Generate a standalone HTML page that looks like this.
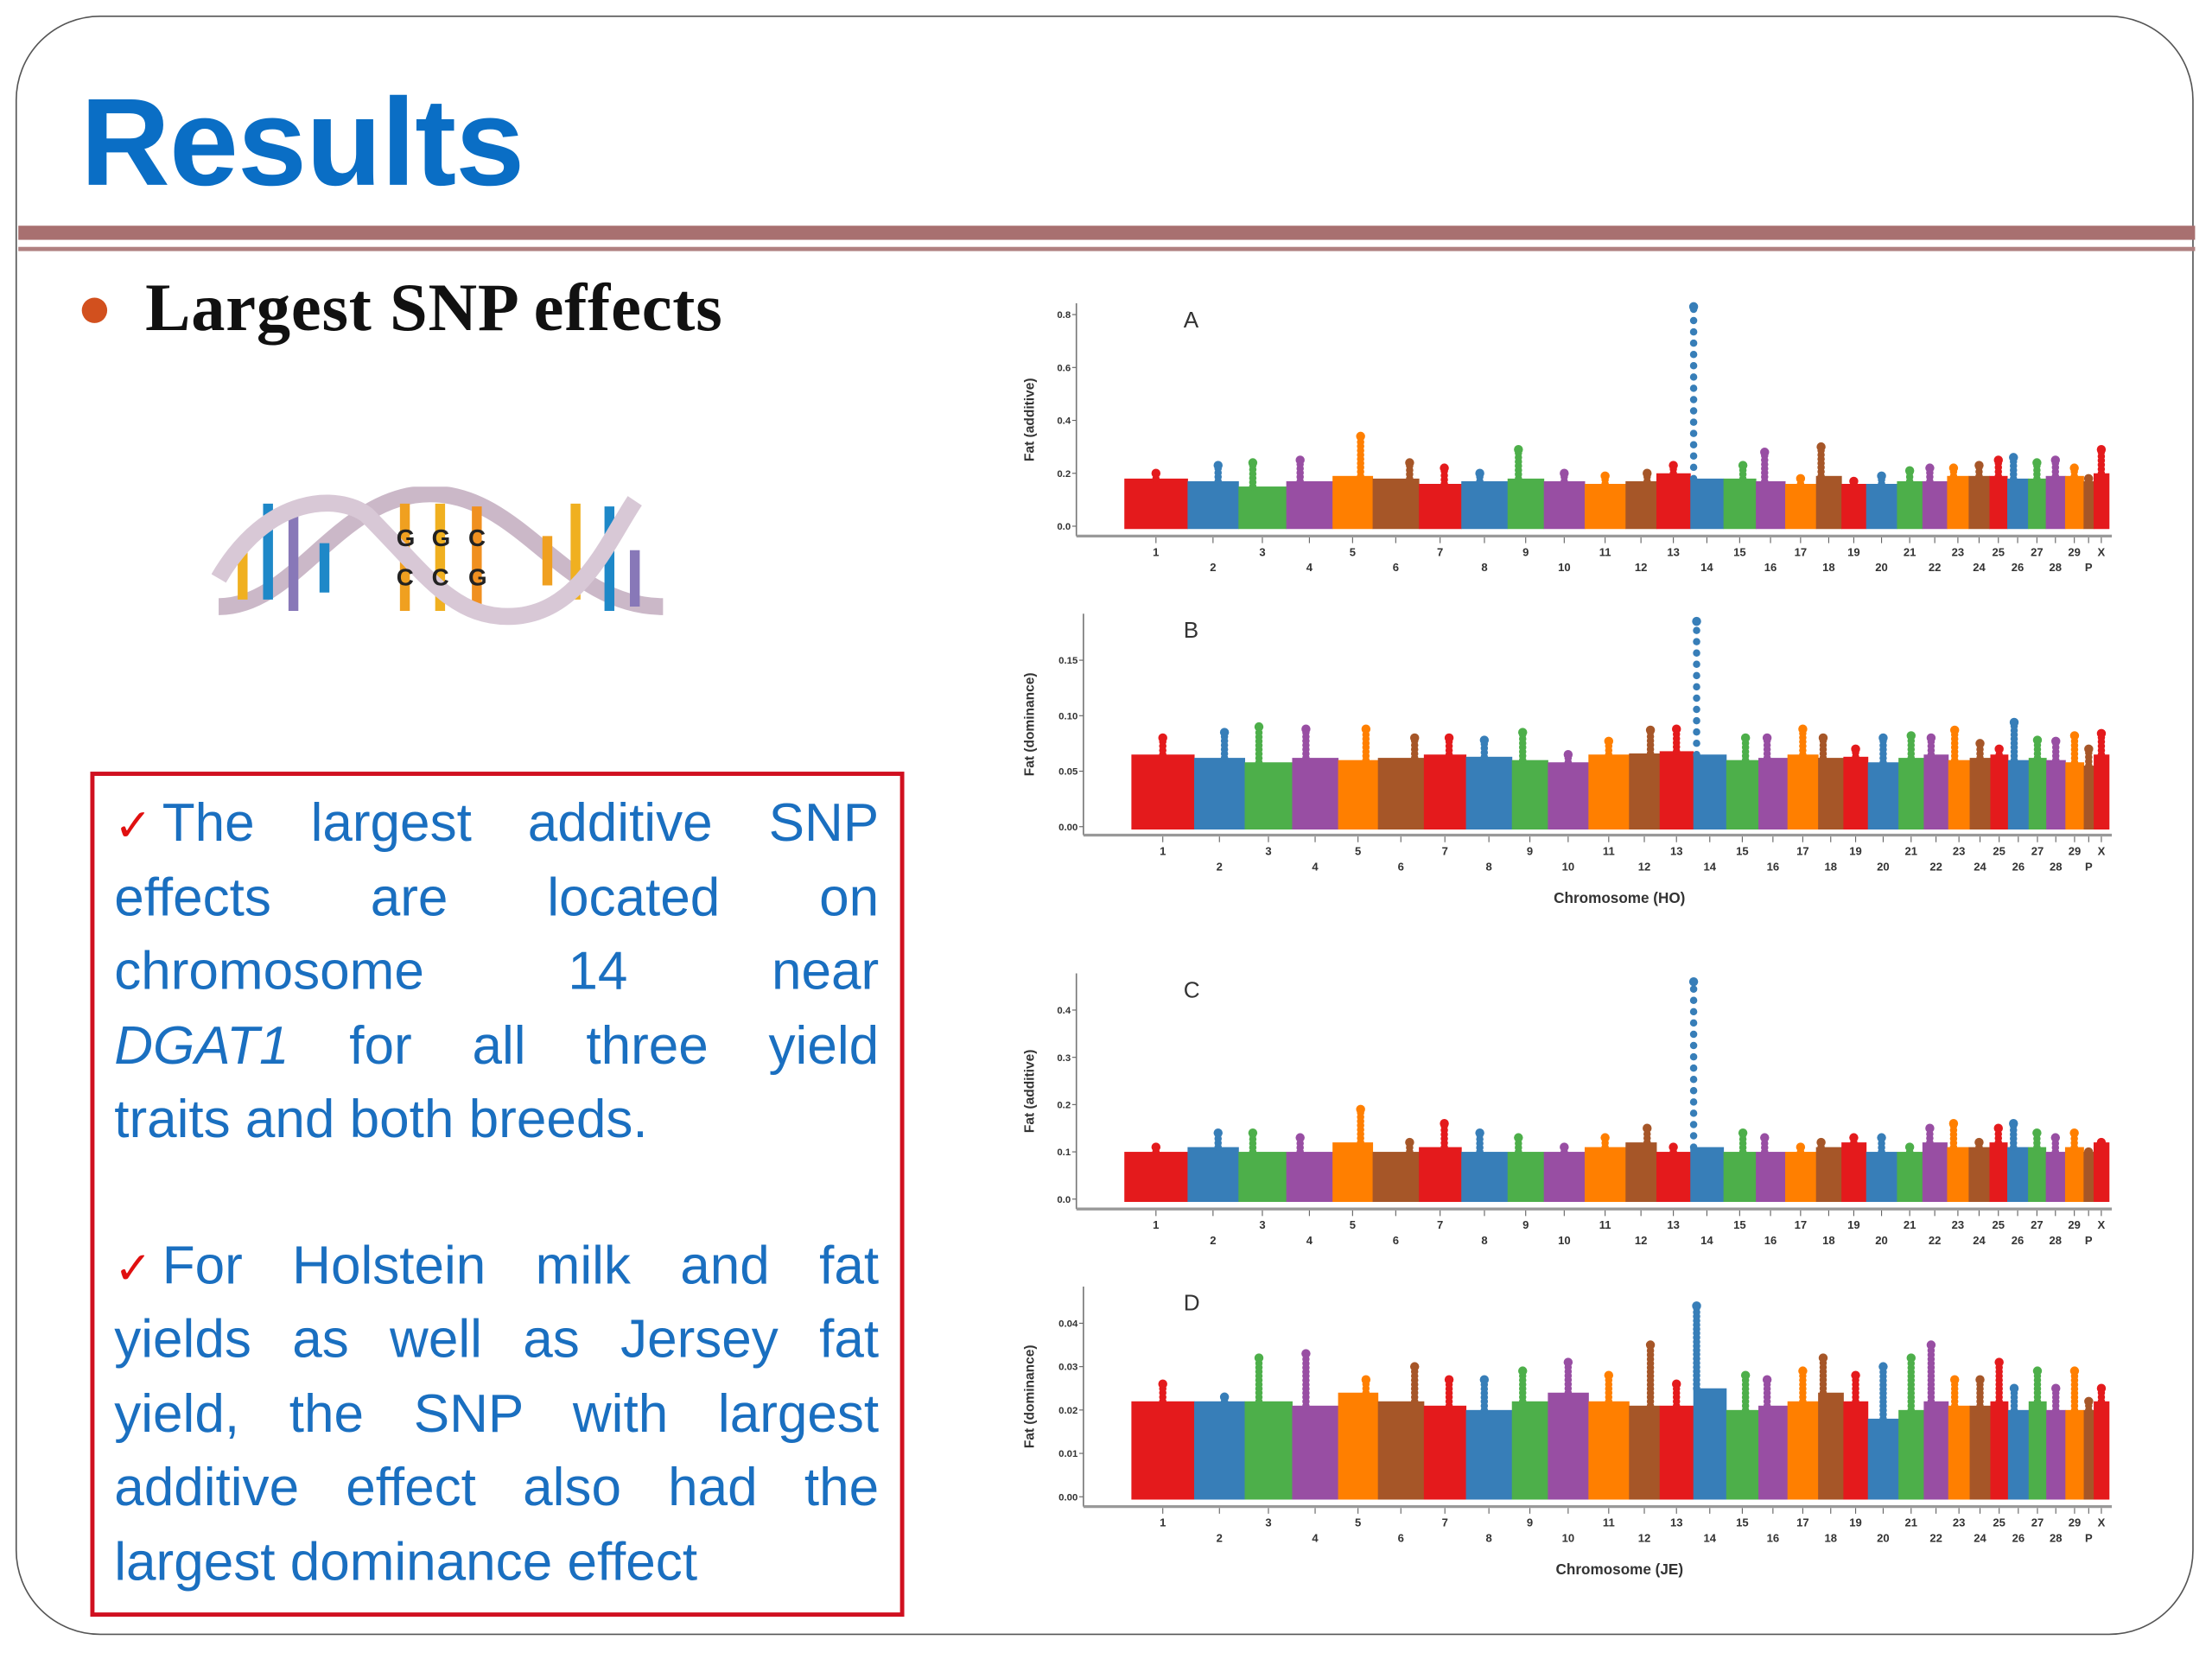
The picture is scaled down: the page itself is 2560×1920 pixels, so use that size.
<!DOCTYPE html>
<html><head><meta charset="utf-8">
<style>
html,body{margin:0;padding:0;background:#fff;}
body{width:2560px;height:1920px;overflow:hidden;position:relative;}
#stage{position:absolute;left:0;top:0;width:1568px;height:1176px;transform:scale(1.632653);transform-origin:0 0;}
.abs{position:absolute;}
#frame{left:11px;top:11px;width:1544px;height:1148px;border:1.5px solid #555;border-radius:60px;box-sizing:border-box;}
#title{left:57px;top:50px;font:bold 88px "Liberation Sans",sans-serif;color:#0a6ec5;letter-spacing:-0.5px;}
#rule1{left:13px;top:160px;width:1543px;height:10px;background:#a87070;}
#rule2{left:13px;top:175px;width:1543px;height:3px;background:#b08080;}
#bullet{left:58px;top:211px;width:18px;height:18px;border-radius:50%;background:#d2501e;}
#subtitle{left:103px;top:191px;font:bold 48px "Liberation Serif",serif;color:#111;letter-spacing:0.5px;}
#box{left:64px;top:547px;width:577px;height:599px;border:3px solid #d01020;box-sizing:border-box;}
.ln{position:absolute;left:81px;width:542px;font:38px "Liberation Sans",sans-serif;color:#1a6fc0;white-space:nowrap;height:52px;line-height:52px;}
.j{text-align:justify;text-align-last:justify;white-space:normal;}
.ck{color:#e01010;font-family:"DejaVu Sans",sans-serif;font-size:32px;display:inline-block;width:34px;text-align:left;}
</style></head>
<body>
<div id="stage">
<div id="frame" class="abs"></div>
<div id="title" class="abs">Results</div>
<div id="rule1" class="abs"></div>
<div id="rule2" class="abs"></div>
<div id="bullet" class="abs"></div>
<div id="subtitle" class="abs">Largest SNP effects</div>

<svg class="abs" style="left:150px;top:345px" width="330" height="100" viewBox="0 0 330 100">
  <path d="M5,85 C60,85 90,5 155,5 C220,5 250,85 320,85" fill="none" stroke="#cbb8c8" stroke-width="12"/>
  <g stroke-width="7">
    <line x1="40" y1="12" x2="40" y2="80" stroke="#1e88c8"/>
    <line x1="58" y1="15" x2="58" y2="88" stroke="#8878b8"/>
    <line x1="22" y1="45" x2="22" y2="80" stroke="#f0b020"/>
    <line x1="80" y1="40" x2="80" y2="75" stroke="#1e88c8"/>
    <line x1="137" y1="12" x2="137" y2="88" stroke="#f0a020"/>
    <line x1="162" y1="12" x2="162" y2="88" stroke="#f0b020"/>
    <line x1="188" y1="14" x2="188" y2="85" stroke="#f09020"/>
    <line x1="258" y1="12" x2="258" y2="80" stroke="#f0b020"/>
    <line x1="282" y1="14" x2="282" y2="88" stroke="#1e88c8"/>
    <line x1="238" y1="35" x2="238" y2="70" stroke="#f0a020"/>
    <line x1="300" y1="45" x2="300" y2="85" stroke="#8878b8"/>
  </g>
  <path d="M5,65 C40,5 90,5 110,20 C150,60 170,92 210,92 C260,92 280,40 300,10" fill="none" stroke="#d8c8d6" stroke-width="12"/>
  <g font-family="Liberation Sans,sans-serif" font-size="17" font-weight="bold" fill="#222">
    <text x="131" y="42">G</text><text x="156" y="42">G</text><text x="182" y="42">C</text>
    <text x="131" y="70">C</text><text x="156" y="70">C</text><text x="182" y="70">G</text>
  </g>
</svg>

<div id="box" class="abs"></div>
<div class="ln j" style="top:558px"><span class="ck">✓</span>The largest additive SNP</div>
<div class="ln j" style="top:611px">effects are located on</div>
<div class="ln j" style="top:663px">chromosome 14 near</div>
<div class="ln j" style="top:716px"><i>DGAT1</i> for all three yield</div>
<div class="ln" style="top:768px">traits and both breeds.</div>
<div class="ln j" style="top:872px"><span class="ck">✓</span>For Holstein milk and fat</div>
<div class="ln j" style="top:924px">yields as well as Jersey fat</div>
<div class="ln j" style="top:977px">yield, the SNP with largest</div>
<div class="ln j" style="top:1029px">additive effect also had the</div>
<div class="ln" style="top:1082px">largest dominance effect</div>

<svg id="charts" class="abs" style="left:0;top:0" width="1568" height="1176"></svg>
</div>

<script>
const chromLabels = ["1","2","3","4","5","6","7","8","9","10","11","12","13","14","15","16","17","18","19","20","21","22","23","24","25","26","27","28","29","P","X"];
const chromLengths = [82,66,62,60,52,60,55,60,47,53,53,40,44,43,42,38,40,33,32,40,33,32,28,27,23,27,23,25,24,13,20];
const peakPos = [.5,.6,.3,.3,.7,.8,.6,.4,.3,.5,.5,.7,.5,.1,.6,.3,.5,.2,.5,.5,.5,.3,.3,.5,.5,.3,.5,.5,.5,.5,.5];
const baseA = [.18,.17,.15,.17,.19,.18,.16,.17,.18,.17,.16,.17,.2,.18,.18,.17,.16,.19,.16,.16,.17,.17,.19,.19,.19,.18,.18,.19,.19,.17,.2];
const peakA = [.2,.23,.24,.25,.34,.24,.22,.2,.29,.2,.19,.2,.23,.83,.23,.28,.18,.3,.17,.19,.21,.22,.22,.23,.25,.26,.24,.25,.22,.18,.29];
const baseB = [.065,.062,.058,.062,.06,.062,.065,.063,.06,.058,.065,.066,.068,.065,.06,.062,.065,.062,.063,.058,.062,.065,.06,.062,.065,.06,.062,.06,.058,.055,.065];
const peakB = [.08,.085,.09,.088,.088,.08,.08,.078,.085,.065,.077,.087,.088,.185,.08,.08,.088,.08,.07,.08,.082,.08,.087,.075,.07,.094,.078,.077,.082,.07,.084];
const baseC = [.1,.11,.1,.1,.12,.1,.11,.1,.1,.1,.11,.12,.1,.11,.1,.1,.1,.11,.12,.1,.1,.12,.11,.11,.12,.11,.11,.1,.11,.1,.12];
const peakC = [.11,.14,.14,.13,.19,.12,.16,.14,.13,.11,.13,.15,.11,.46,.14,.13,.11,.12,.13,.13,.11,.15,.16,.12,.15,.16,.14,.13,.14,.1,.12];
const baseD = [.022,.022,.022,.021,.024,.022,.021,.02,.022,.024,.022,.021,.021,.025,.02,.021,.022,.024,.022,.018,.02,.022,.021,.021,.022,.02,.022,.02,.02,.02,.022];
const peakD = [.026,.023,.032,.033,.027,.03,.027,.027,.029,.031,.028,.035,.026,.044,.028,.027,.029,.032,.028,.03,.032,.035,.027,.027,.031,.025,.029,.025,.029,.022,.025];
const yTicksA = [0,0.2,0.4,0.6,0.8], yTickLabA = ["0.0","0.2","0.4","0.6","0.8"];
const yTicksB = [0,0.05,0.10,0.15], yTickLabB = ["0.00","0.05","0.10","0.15"];
const yTicksC = [0,0.1,0.2,0.3,0.4], yTickLabC = ["0.0","0.1","0.2","0.3","0.4"];
const yTicksD = [0,0.01,0.02,0.03,0.04], yTickLabD = ["0.00","0.01","0.02","0.03","0.04"];
const colors = ["#e41a1c","#377eb8","#4daf4a","#984ea3","#ff7f00","#a65628"];

const NS = "http://www.w3.org/2000/svg";
const svg = document.getElementById('charts');
function mk(tag, attrs, parent){ const e=document.createElementNS(NS,tag); for(const k in attrs) e.setAttribute(k,attrs[k]); (parent||svg).appendChild(e); return e; }

const panels = [
 {id:"a",letter:"A",ax:763,axY:380,top:215,y0:373,v1:0.8,y1:223,x0:797,x1:1495,base:baseA,peak:peakA,ticks:yTicksA,tl:yTickLabA,ylab:"Fat (additive)",xlab:null},
 {id:"b",letter:"B",ax:768,axY:592,top:435,y0:586,v1:0.15,y1:468,x0:802,x1:1495,base:baseB,peak:peakB,ticks:yTicksB,tl:yTickLabB,ylab:"Fat (dominance)",xlab:"Chromosome (HO)"},
 {id:"c",letter:"C",ax:763,axY:857,top:690,y0:850,v1:0.4,y1:716,x0:797,x1:1495,base:baseC,peak:peakC,ticks:yTicksC,tl:yTickLabC,ylab:"Fat (additive)",xlab:null},
 {id:"d",letter:"D",ax:768,axY:1068,top:912,y0:1061,v1:0.04,y1:938,x0:802,x1:1495,base:baseD,peak:peakD,ticks:yTicksD,tl:yTickLabD,ylab:"Fat (dominance)",xlab:"Chromosome (JE)"}
];
const total = chromLengths.reduce((a,b)=>a+b,0);

panels.forEach(p=>{
  const g = mk('g',{});
  
  
  const yS = v => p.y0 - v*(p.y0-p.y1)/p.v1;
  const xS = c => p.x0 + c*(p.x1-p.x0)/total;
  let cum = 0;
  chromLabels.forEach((lab,i)=>{
    const xa = xS(cum), xb = xS(cum+chromLengths[i]);
    const col = colors[i%6];
    const r = mk('rect',{x:xa,y:yS(p.base[i]),width:xb-xa+0.3,height:p.y0+2-yS(p.base[i]),fill:col},g);
    
    
    const cx = xa + (xb-xa)*peakPos[i];
    const yb = yS(p.base[i]), yp = yS(p.peak[i]);
    const big = (yb-yp) > 60;
    for(let y=yb; y>=yp-0.1; y-= big ? 8 : 3){
      const c = mk('circle',{cx:cx,cy:y,r:2.6,fill:col},g);
      
      
    }
    const c2 = mk('circle',{cx:cx,cy:yp,r:3.2,fill:col},g);
    
    
    const mid = (xa+xb)/2;
    const top = (i%2===0);
    mk('line',{x1:mid,y1:p.axY+1,x2:mid,y2:p.axY+5,stroke:"#666","stroke-width":0.7},g);
    const t = mk('text',{x:mid,y:p.axY+(top?14:25),"text-anchor":"middle","font-size":8,"font-weight":"bold","font-family":"Liberation Sans,sans-serif",fill:"#333"},g);
    t.textContent = lab;
    
    
    cum += chromLengths[i];
  });
  const ya = mk('line',{x1:p.ax,y1:p.top,x2:p.ax,y2:p.axY,stroke:"#777","stroke-width":1},g);
  
  
  const xa = mk('line',{x1:p.ax,y1:p.axY,x2:1497,y2:p.axY,stroke:"#999","stroke-width":2},g);
  
  
  p.ticks.forEach((v,k)=>{
    mk('line',{x1:p.ax-3,y1:yS(v),x2:p.ax,y2:yS(v),stroke:"#666","stroke-width":0.7},g);
    const t = mk('text',{x:p.ax-4,y:yS(v)+2.5,"text-anchor":"end","font-size":7,"font-weight":"bold","font-family":"Liberation Sans,sans-serif",fill:"#333"},g);
    t.textContent = p.tl[k];
    
    
  });
  const cy = (p.top+p.axY)/2;
  const yl = mk('text',{x:733,y:cy,transform:`rotate(-90 733 ${cy})`,"text-anchor":"middle","font-size":9.5,"font-weight":"bold","font-family":"Liberation Sans,sans-serif",fill:"#333"},g);
  yl.textContent = p.ylab;
  
  
  const lt = mk('text',{x:839,y:p.top+17,"font-size":16,"font-family":"Liberation Sans,sans-serif",fill:"#333"},g);
  lt.textContent = p.letter;
  
  
  if(p.xlab){
    const xl = mk('text',{x:1148,y:p.axY+48,"text-anchor":"middle","font-size":10.5,"font-weight":"bold","font-family":"Liberation Sans,sans-serif",fill:"#333"},g);
    xl.textContent = p.xlab;
    
    
  }
});
</script>
</body></html>
